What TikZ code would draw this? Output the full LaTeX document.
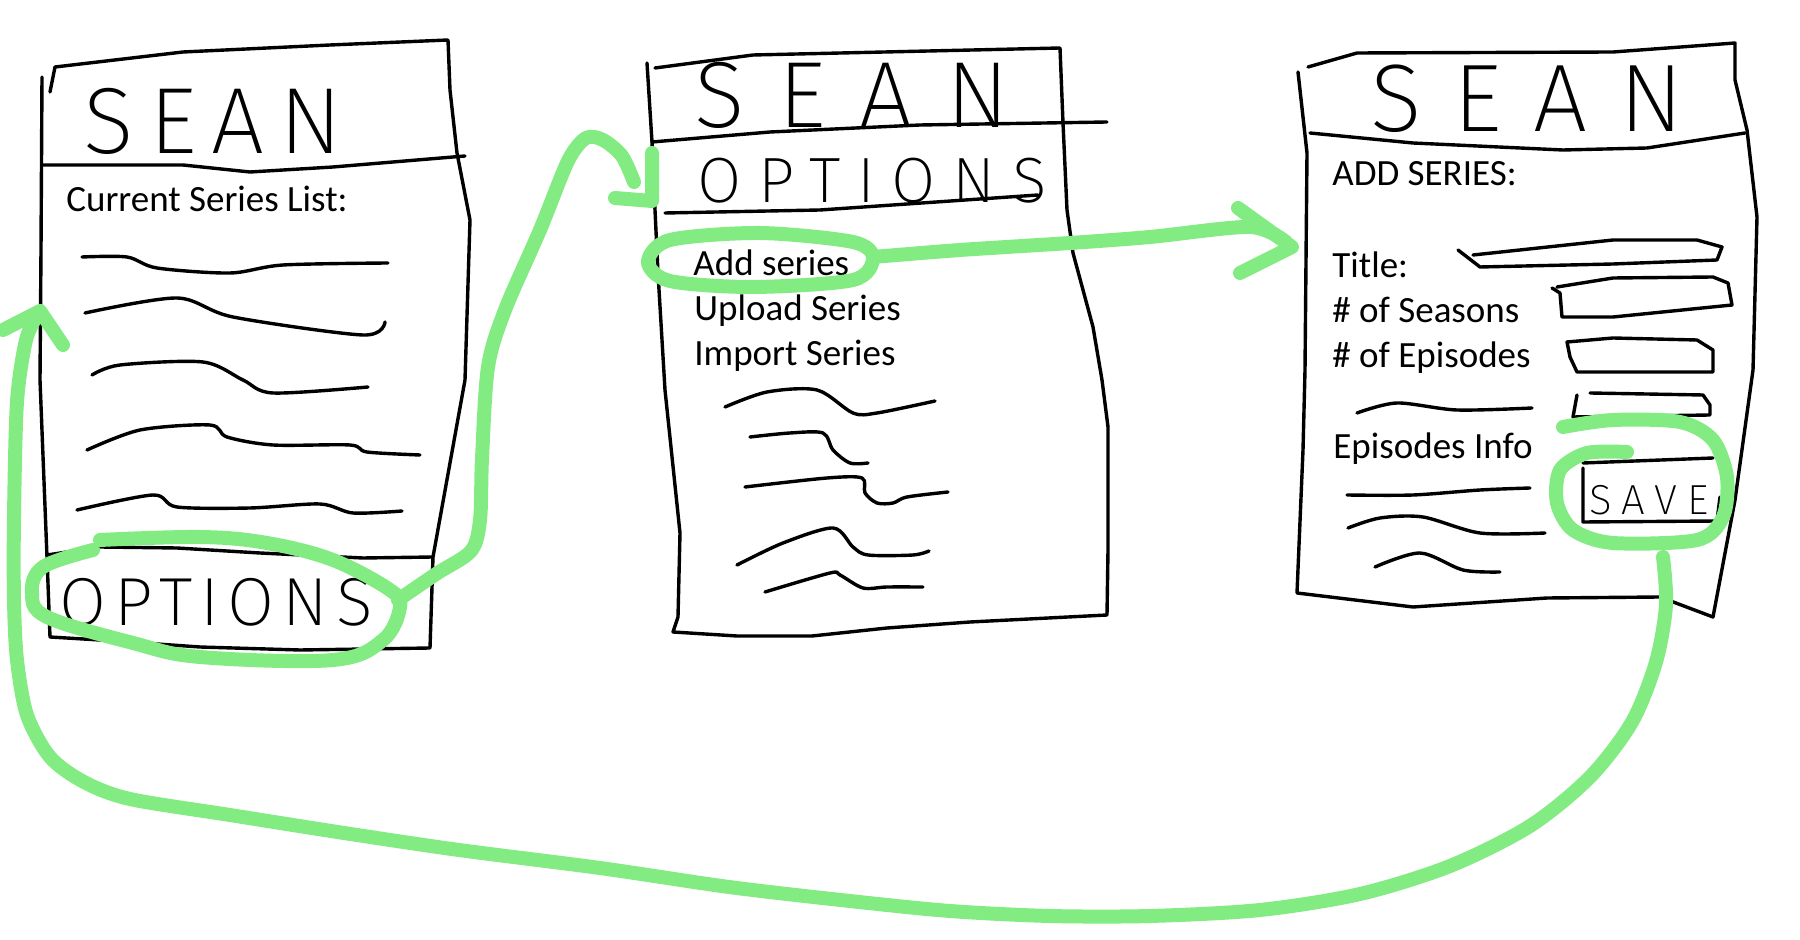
\documentclass[tikz,border=0pt]{standalone}
\usepackage{fontspec}
\setmainfont{Carlito}
\IfFontExistsTF{Fira Sans ExtraLight}{\newfontfamily\hand{Fira Sans ExtraLight}}{%
 \IfFontExistsTF{Lato Light}{\newfontfamily\hand{Lato Light}}{%
  \IfFontExistsTF{Open Sans Light}{\newfontfamily\hand{Open Sans Light}}{%
   \newfontfamily\hand{DejaVu Sans}}}}
\definecolor{hlgreen}{RGB}{130,235,130}
\begin{document}
\begin{tikzpicture}[x=0.5pt,y=-0.5pt,
  ink/.style={line width=1.7pt,line join=round,line cap=round},
  hl/.style={draw=hlgreen,line width=7pt,line cap=round,line join=round},
  lbl/.style={anchor=base west,inner sep=0pt,font=\fontsize{18.5}{20}\selectfont},
  handtxt/.style={inner sep=0pt,anchor=center}]
\useasboundingbox (0,0) rectangle (1800,940);

% ---------- Panel 1 ----------
\draw[ink] (55,67) -- (50,92);
\draw[ink] (55,67) -- (183,52) -- (330,45) -- (448,40) -- (450,90) -- (457,153) -- (470,220) -- (465,380) -- (433,557) -- (430,648)
  -- (300,650) -- (200,647) -- (100,640) -- (50,637) -- (47,557) -- (40,380) -- (41,250) -- (42,77);
\draw[ink] (43,165) -- (183,165) -- (250,172) -- (333,167) -- (465,156);
\draw[ink] (47,555) -- (100,547) -- (177,548) -- (260,553) -- (363,558) -- (433,557);
\node[handtxt] (sean1) at (213,121) {\hand\fontsize{47}{47}\selectfont\addfontfeatures{LetterSpace=16}SEAN};
\node[lbl] (curlist) at (66,212) {Current Series List:};
\draw[ink] plot[smooth] coordinates {(82,257) (127,257) (157,268) (230,273) (283,265) (388,263)};
\draw[ink] plot[smooth] coordinates {(85,313) (177,298) (233,317) (363,335) (385,322)};
\draw[ink] plot[smooth] coordinates {(92,375) (120,365) (203,362) (243,380) (273,393) (368,387)};
\draw[ink] plot[smooth] coordinates {(87,450) (140,430) (210,425) (227,437) (273,445) (350,445) (367,452) (420,455)};
\draw[ink] plot[smooth] coordinates {(77,510) (153,495) (177,507) (250,508) (320,504) (353,513) (402,511)};
\node[handtxt] (opt1) at (216,602) {\hand\fontsize{34}{34}\selectfont\addfontfeatures{LetterSpace=12}OPTIONS};

% ---------- Panel 2 ----------
\draw[ink] (647,63) -- (652,142) -- (655,210) -- (658,273) -- (665,390) -- (680,533) -- (678,617) -- (673,632)
  -- (737,636) -- (812,636) -- (887,628) -- (970,622) -- (1107,615) -- (1108,550) -- (1108,427) -- (1102,380)
  -- (1093,327) -- (1073,253) -- (1067,210) -- (1063,123) -- (1060,48) -- (753,55) -- (655,68);
\draw[ink] (652,142) -- (770,132) -- (920,125) -- (1107,122);
\draw[ink] (665,213) -- (820,210) -- (1038,195);
\node[handtxt] (sean2) at (852,95) {\hand\fontsize{47}{47}\selectfont\addfontfeatures{LetterSpace=36}SEAN};
\node[handtxt] (opt2) at (872,181) {\hand\fontsize{32}{32}\selectfont\addfontfeatures{LetterSpace=26}OPTIONS};
\node[lbl] (addser) at (693,276) {Add series};
\node[lbl] (upser) at (694,321) {Upload Series};
\node[lbl] (impser) at (694,366) {Import Series};
\draw[ink] plot[smooth] coordinates {(725,407) (767,392) (817,390) (853,413) (877,413) (935,401)};
\draw[ink] plot[smooth] coordinates {(750,437) (790,433) (823,433) (833,450) (850,463) (868,463)};
\draw[ink] plot[smooth] coordinates {(745,487) (827,478) (862,478) (865,493) (877,503) (893,503) (907,497) (948,492)};
\draw[ink] plot[smooth] coordinates {(737,565) (783,543) (833,528) (853,547) (868,555) (913,555) (929,551)};
\draw[ink] plot[smooth] coordinates {(765,592) (830,573) (840,575) (863,588) (887,587) (923,587)};

% ---------- Panel 3 ----------
\draw[ink] (1298,72) -- (1307,153) -- (1305,370) -- (1303,450) -- (1297,593) -- (1413,607) -- (1547,598) -- (1660,597)
  -- (1713,617) -- (1735,500) -- (1753,370) -- (1757,217) -- (1747,130) -- (1735,80) -- (1735,43) -- (1613,52) -- (1357,53) -- (1308,67);
\draw[ink] (1310,133) -- (1413,143) -- (1563,150) -- (1647,148) -- (1745,133);
\node[handtxt] (sean3) at (1527,99) {\hand\fontsize{48}{48}\selectfont\addfontfeatures{LetterSpace=33}SEAN};
\node[lbl] (addhead) at (1332,186) {ADD SERIES:};
\node[lbl] (ttl) at (1332,278) {Title:};
\node[lbl] (seas) at (1332,323) {\# of Seasons};
\node[lbl] (epis) at (1332,368) {\# of Episodes};
\node[lbl] (epinfo) at (1333,459) {Episodes Info};
\draw[ink] (1458,250) -- (1480,267) -- (1613,264) -- (1717,260) -- (1722,247) -- (1697,240) -- (1613,240) -- (1473,255);
\draw[ink] (1552,288) -- (1560,293) -- (1562,317) -- (1613,317) -- (1732,305) -- (1728,283) -- (1713,277) -- (1613,278) -- (1557,287);
\draw[ink] (1567,342) -- (1613,338) -- (1697,340) -- (1713,350) -- (1713,372) -- (1577,372) -- (1570,357) -- cycle;
\draw[ink] (1590,393) -- (1703,395) -- (1710,405) -- (1710,415) -- (1573,417) -- (1577,395);
\draw[ink] plot[smooth] coordinates {(1357,413) (1397,403) (1457,410) (1532,408)};
\draw[ink] plot[smooth] coordinates {(1347,495) (1413,495) (1480,490) (1530,488)};
\draw[ink] plot[smooth] coordinates {(1348,528) (1380,518) (1423,517) (1480,533) (1545,533)};
\draw[ink] plot[smooth] coordinates {(1375,567) (1420,553) (1463,570) (1500,572)};
\draw[ink] (1713,458) -- (1583,463);
\draw[ink] (1583,468) -- (1583,522) -- (1717,521) -- (1720,497);
\node[handtxt] (save) at (1649,500) {\hand\fontsize{21}{21}\selectfont\addfontfeatures{LetterSpace=24}SAVE};

% ---------- green highlights and connectors ----------
\coordinate (optR) at (398,600);
\coordinate (tip1) at (652,201);
\coordinate (addR) at (873,257);
\coordinate (tip2) at (1292,247);
\coordinate (saveB) at (1663,557);
\coordinate (tip3) at (40,311);

\draw[hl] plot[smooth,tension=0.6] coordinates {(100,540) (200,537) (267,543) (333,560) (390,590) (400,607) (383,640) (333,660) (200,657) (133,643) (47,617) (32,593) (43,567) (93,550)};
\draw[hl] plot[smooth] coordinates {(optR) (436,574) (471,551) (480,520) (482,459) (488,367) (505,310) (540,230) (568,161) (586,138) (603,140) (622,156) (634,182)};
\draw[hl] (652,153) -- (tip1) -- (615,198);

\draw[hl] plot[smooth cycle] coordinates {(760,233) (853,242) (873,258) (853,280) (753,287) (670,281) (648,262) (670,240)};
\draw[hl] plot[smooth] coordinates {(addR) (960,250) (1070,243) (1150,237) (1250,227) (1286,242)};
\draw[hl] (1238,208) -- (tip2) -- (1240,273);

\draw[hl] plot[smooth] coordinates {(1563,427) (1613,420) (1680,422) (1713,440) (1727,477) (1723,517) (1697,540) (1613,543) (1573,530) (1557,503) (1560,470) (1587,453) (1627,452)};
\draw[hl] plot[smooth] coordinates {(saveB) (1666,605) (1656,662) (1632,722) (1590,777) (1530,826) (1450,866) (1360,894) (1260,910) (1150,916) (1050,916) (950,911) (850,901) (729,887) (600,868) (459,850) (344,833) (230,815) (130,799) (84,782) (50,757) (27,715) (17,660) (14,600) (14,517) (17,402) (26,340) (37,316)};
\draw[hl] (3,330) -- (tip3) -- (63,345);
\end{tikzpicture}
\end{document}
